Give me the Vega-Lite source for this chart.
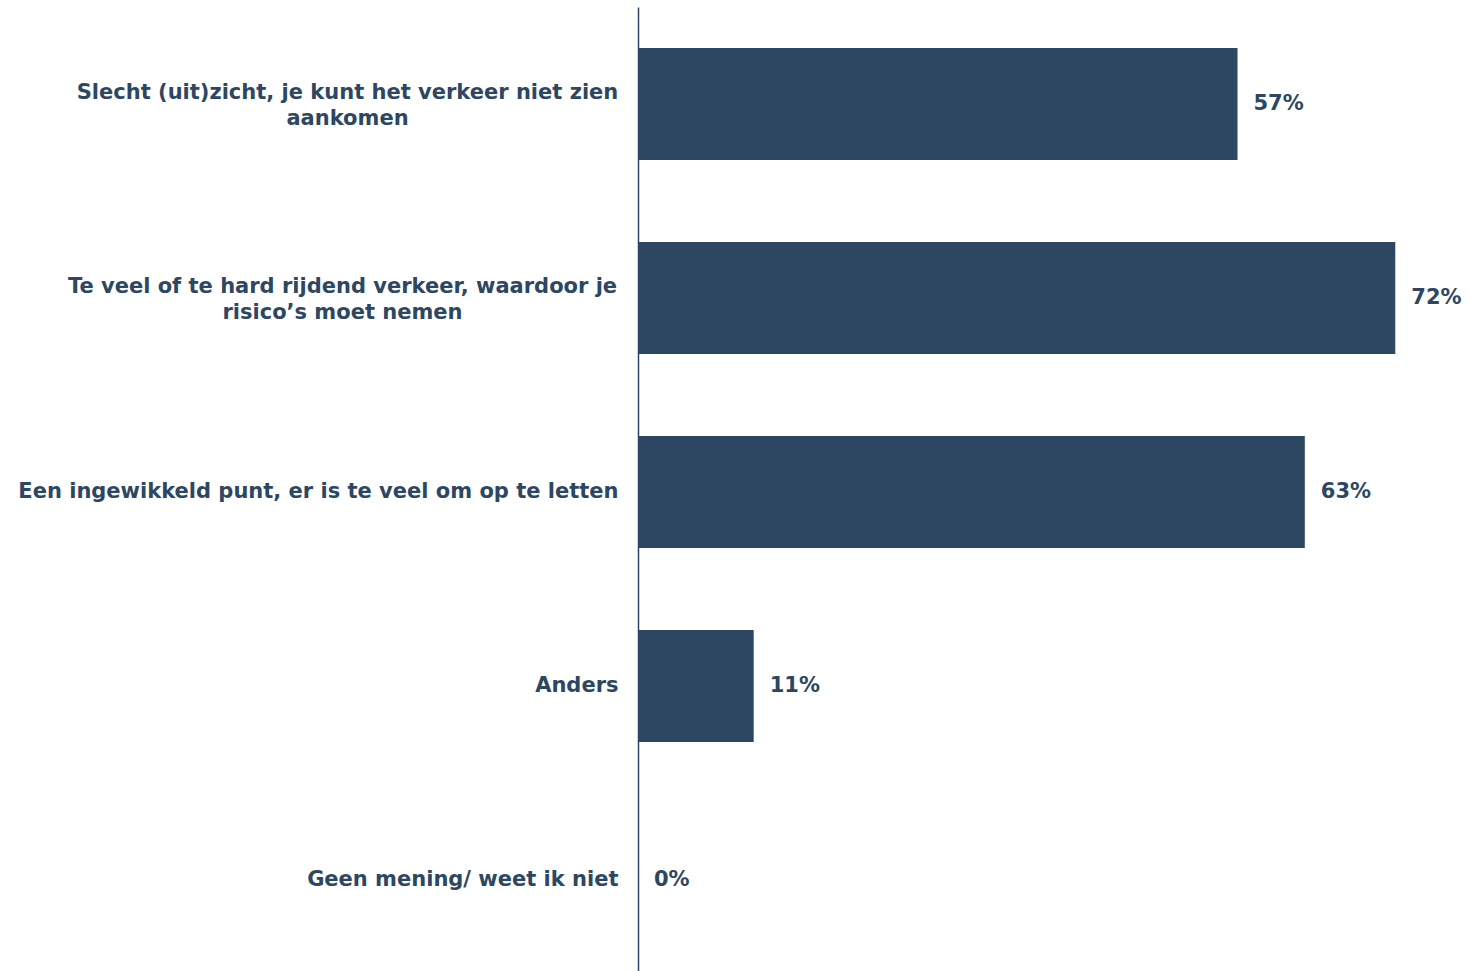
{
  "$schema": "https://vega.github.io/schema/vega-lite/v6.json",
  "width": 833,
  "height": 970,
  "autosize": {"type": "none"},
  "padding": {"left": 638, "top": 7, "right": 0, "bottom": 0},
  "background": "white",
  "config": {"view": {"stroke": null}, "font": "DejaVu Sans"},
  "data": {"values": [
    {"cat": "Slecht (uit)zicht, je kunt het verkeer niet zien|aankomen", "value": 0.57},
    {"cat": "Te veel of te hard rijdend verkeer, waardoor je|risico’s moet nemen", "value": 0.72},
    {"cat": "Een ingewikkeld punt, er is te veel om op te letten", "value": 0.634},
    {"cat": "Anders", "value": 0.11},
    {"cat": "Geen mening/ weet ik niet", "value": 0.0}
  ]},
  "encoding": {
    "y": {"field": "cat", "type": "nominal", "sort": null,
      "scale": {"paddingInner": 0.423, "paddingOuter": 0.2115},
      "axis": {"title": null, "ticks": false, "domainColor": "#2D4763", "domainWidth": 1.5,
        "labelColor": "#2D4763", "labelFont": "DejaVu Sans", "labelFontWeight": "bold", "labelFontSize": 21,
        "labelLimit": 700, "labelLineHeight": 26,
        "labelAlign": {"condition": {"test": "indexof(datum.label, '|') >= 0", "value": "center"}, "value": "right"},
        "labelPadding": {"condition": [
          {"test": "indexof(datum.label, 'Slecht') >= 0", "value": 291},
          {"test": "indexof(datum.label, 'Te veel') >= 0", "value": 296}
        ], "value": 20},
        "labelOffset": {"condition": {"test": "indexof(datum.label, '|') >= 0", "value": -11.5}, "value": 0},
        "labelExpr": "split(datum.label, '|')"}},
    "x": {"field": "value", "type": "quantitative", "scale": {"domain": [0, 0.792], "nice": false}, "axis": null}
  },
  "layer": [
    {"mark": {"type": "bar", "color": "#2D4763"}},
    {"mark": {"type": "text", "align": "left", "baseline": "middle", "dx": 16, "fontSize": 21, "fontWeight": "bold", "color": "#2D4763"},
     "encoding": {"text": {"field": "value", "type": "quantitative", "format": ".0%"}}}
  ]
}
